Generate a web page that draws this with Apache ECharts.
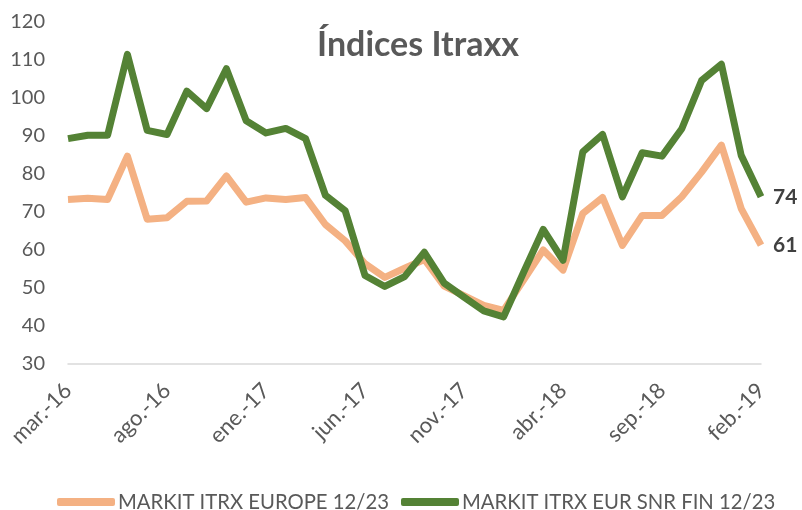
<!DOCTYPE html>
<html>
<head>
<meta charset="utf-8">
<script src="https://cdn.jsdelivr.net/npm/echarts@6/dist/echarts.min.js"></script>
<style>
  html, body { margin: 0; padding: 0; background: #fff; }
  #chart { width: 802px; height: 510px; }
</style>
</head>
<body>
<div id="chart"></div>
<script>
// meses (mar.-16 .. feb.-19)
const months = [
  'mar.-16','abr.-16','may.-16','jun.-16','jul.-16','ago.-16','sep.-16','oct.-16','nov.-16','dic.-16',
  'ene.-17','feb.-17','mar.-17','abr.-17','may.-17','jun.-17','jul.-17','ago.-17','sep.-17','oct.-17',
  'nov.-17','dic.-17','ene.-18','feb.-18','mar.-18','abr.-18','may.-18','jun.-18','jul.-18','ago.-18',
  'sep.-18','oct.-18','nov.-18','dic.-18','ene.-19','feb.-19'
];

const europe = [
  73.3, 73.6, 73.3, 84.7, 68.1, 68.5, 72.8, 72.9, 79.5, 72.6,
  73.7, 73.3, 73.8, 66.7, 62.4, 56.4, 52.8, 55.2, 57.5, 50.5,
  48.0, 45.4, 44.1, 52.0, 60.0, 54.7, 69.6, 73.8, 61.2, 69.1,
  69.1, 74.0, 80.5, 87.6, 70.9, 61.3
];

const snrFin = [
  89.3, 90.2, 90.2, 111.5, 91.5, 90.4, 101.8, 97.2, 107.7, 94.0,
  90.8, 92.0, 89.3, 74.4, 70.3, 53.3, 50.4, 53.0, 59.4, 51.3,
  47.6, 44.0, 42.4, 54.0, 65.4, 57.3, 85.8, 90.4, 74.0, 85.6,
  84.7, 91.9, 104.6, 108.9, 84.9, 74.0
];

const seriesNames = ['MARKIT ITRX EUROPE 12/23', 'MARKIT ITRX EUR SNR FIN 12/23'];
const colors = ['#F4B183', '#548235'];

const font = 'Lato, "Open Sans", sans-serif';
const myChart = echarts.init(document.getElementById('chart'));

// etiqueta al final de cada línea
const endLbl = {
  show: true,
  distance: 12,
  fontFamily: font,
  fontWeight: 'bold',
  fontSize: 21,
  color: '#404040',
  formatter: p => Math.round(p.value)
};

const option = {
  animation: false,
  color: colors,
  title: {
    text: 'Índices Itraxx',
    left: 413,
    top: 23,
    textAlign: 'center',
    textStyle: { fontFamily: font, fontSize: 34, fontWeight: 'bold', color: '#595959' }
  },
  legend: {
    top: 487,
    left: 52,
    itemWidth: 58,
    itemHeight: 8,
    itemGap: 12,
    icon: 'roundRect',
    textStyle: { fontFamily: font, fontSize: 20.3, color: '#595959', padding: [0, 0, 0, -2] },
    data: seriesNames
  },
  grid: { left: 68, right: 41, top: 22, bottom: 146, containLabel: false },
  xAxis: {
    type: 'category',
    data: months,
    boundaryGap: false,
    axisLine: { lineStyle: { color: '#D9D9D9', width: 1.5 } },
    axisTick: { show: false },
    axisLabel: {
      interval: 4,
      rotate: 45,
      margin: 23,
      fontFamily: font,
      fontSize: 22,
      color: '#595959'
    }
  },
  yAxis: {
    type: 'value',
    min: 30,
    max: 120,
    interval: 10,
    splitLine: { show: false },
    axisLine: { show: false },
    axisTick: { show: false },
    axisLabel: { fontFamily: font, fontSize: 20, color: '#595959', margin: 23 }
  },
  series: [
    {
      name: seriesNames[0],
      type: 'line',
      data: europe,
      symbol: 'none',
      lineStyle: { width: 7, color: colors[0], join: 'round' },
      endLabel: endLbl
    },
    {
      name: seriesNames[1],
      type: 'line',
      data: snrFin,
      symbol: 'none',
      lineStyle: { width: 7, color: colors[1], join: 'round' },
      endLabel: endLbl
    }
  ]
};

myChart.setOption(option);
</script>
</body>
</html>
